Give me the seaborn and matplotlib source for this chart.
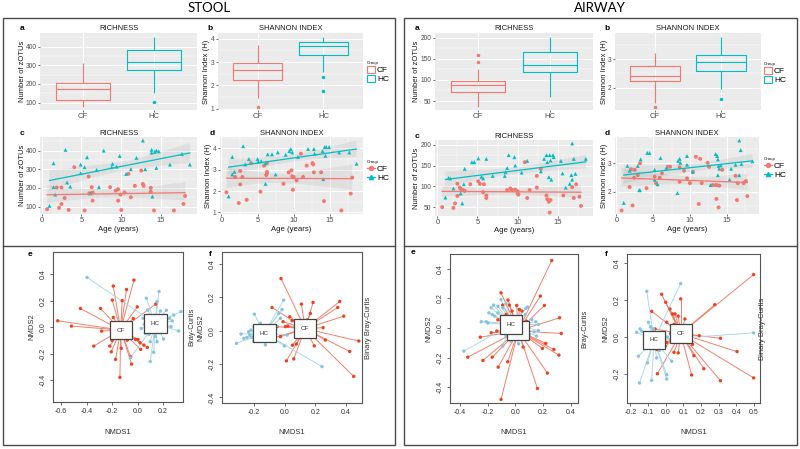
import numpy as np
import pandas as pd
import matplotlib
matplotlib.use("Agg")
import matplotlib.pyplot as plt
import seaborn as sns
from matplotlib.patches import Rectangle, Patch
from matplotlib.lines import Line2D
from matplotlib.collections import LineCollection, PolyCollection
from matplotlib.ticker import AutoMinorLocator

# ---------------- data ----------------
# STOOL  c: richness vs age
stool_rich_cf_age = [0.7, 1.9, 2.5, 2.2, 2.5, 2.9, 3.4, 4.1, 5.4, 5.9, 6.0, 6.3, 6.4, 6.4, 8.6, 9.3, 9.6,
                     9.6, 9.9, 10.0, 10.4, 10.9, 11.2, 11.7, 12.5, 12.7, 12.8, 13.7, 13.7, 14.1, 16.6, 17.8, 18.0]
stool_rich_cf = [86, 202, 202, 93, 114, 146, 82, 311, 79, 261, 171, 204, 132, 175, 204, 186, 193,
                 132, 164, 82, 175, 275, 150, 211, 293, 221, 211, 200, 179, 79, 79, 114, 157]
stool_rich_hc_age = [1.0, 1.5, 1.5, 1.7, 3.0, 3.2, 3.6, 4.9, 4.9, 5.4, 5.7, 6.1, 6.9, 7.2, 7.8, 8.8, 8.9,
                     9.4, 9.8, 10.6, 11.2, 11.9, 12.7, 13.0, 13.8, 13.8, 13.9, 14.2, 14.4, 14.4, 14.7,
                     16.1, 17.6, 18.6]
stool_rich_hc = [104, 332, 204, 164, 404, 229, 207, 325, 279, 311, 364, 171, 296, 204, 400, 311, 329,
                 314, 371, 275, 300, 361, 454, 300, 404, 389, 154, 393, 400, 307, 396, 325, 382, 325]

# STOOL  d: Shannon vs age
stool_shan_cf_age = [0.7, 1.9, 2.4, 2.6, 2.6, 2.9, 3.5, 4.1, 5.4, 5.9, 6.2, 6.3, 6.3, 6.3, 8.6, 9.3, 9.7,
                     9.8, 9.9, 10.0, 10.4, 11.0, 11.3, 11.8, 12.6, 12.8, 12.7, 13.8, 14.2, 16.6, 17.9, 18.1]
stool_shan_cf = [1.94, 2.66, 1.44, 2.94, 2.31, 2.66, 1.59, 3.31, 1.97, 3.19, 2.75, 3.31, 2.90, 2.84,
                 2.34, 2.88, 2.97, 2.69, 2.06, 2.66, 2.50, 3.75, 2.66, 3.19, 3.31, 2.88, 3.25, 2.88,
                 1.53, 1.09, 1.88, 2.63]
stool_shan_hc_age = [1.0, 1.5, 1.5, 1.8, 3.0, 3.3, 3.8, 5.0, 5.1, 5.5, 6.1, 6.1, 6.4, 7.0, 7.5, 7.8, 8.9,
                     9.4, 9.6, 9.8, 10.6, 12.0, 12.8, 12.9, 14.0, 14.1, 14.3, 14.5, 14.4, 14.9, 16.3,
                     17.7, 18.7]
stool_shan_hc = [1.75, 3.60, 2.78, 2.90, 4.10, 3.25, 3.50, 3.50, 3.38, 3.40, 2.34, 3.30, 3.72, 3.72,
                 2.78, 3.81, 3.70, 3.87, 3.97, 3.81, 3.60, 3.97, 3.97, 3.75, 3.87, 2.56, 4.06, 4.06,
                 3.65, 4.06, 3.81, 3.81, 3.28]

# AIRWAY c: richness vs age
air_rich_cf_age = [0.6, 2.0, 2.2, 2.5, 2.5, 2.8, 2.9, 3.2, 3.4, 4.1, 5.1, 5.3, 5.7, 5.8, 6.1, 6.1, 8.7,
                   9.1, 9.3, 9.7, 10.0, 10.0, 10.1, 10.9, 11.2, 11.5, 12.4, 12.4, 12.9, 13.6, 13.7,
                   13.9, 14.1, 14.0, 15.7, 16.8, 17.0, 17.3, 17.7, 17.9]
air_rich_cf = [50, 48, 59, 106, 77, 97, 94, 91, 89, 105, 112, 106, 86, 105, 78, 72, 91,
               95, 91, 92, 88, 83, 80, 158, 72, 91, 125, 97, 142, 78, 69,
               63, 67, 37, 78, 98, 72, 105, 75, 53]
air_rich_hc_age = [1.0, 1.4, 1.6, 2.0, 2.9, 3.1, 3.3, 3.4, 4.3, 4.6, 5.1, 5.5, 5.7, 6.1, 6.9, 8.4, 8.5,
                   8.7, 8.9, 9.6, 9.7, 10.5, 11.2, 12.9, 13.3, 13.6, 13.7, 13.9, 14.0, 14.1, 14.2,
                   14.4, 14.5, 15.4, 15.6, 16.0, 16.5, 16.7, 16.8, 16.8, 17.0, 17.2, 18.5]
air_rich_hc = [73, 120, 119, 95, 83, 59, 105, 142, 158, 158, 167, 123, 119, 166, 125, 125, 134,
               144, 175, 170, 150, 133, 161, 136, 166, 175, 158, 122, 175, 162, 116,
               175, 170, 161, 131, 97, 106, 127, 203, 116, 166, 130, 166]

# AIRWAY d: Shannon vs age
air_shan_cf_age = [0.7, 2.0, 1.8, 2.2, 2.4, 2.5, 2.9, 3.2, 4.1, 5.2, 5.4, 5.9, 6.2, 7.0, 7.3, 8.6, 8.6,
                   9.2, 9.6, 10.0, 10.4, 10.8, 11.2, 11.4, 11.6, 12.4, 12.6, 13.1, 13.5, 13.7, 13.6,
                   14.0, 13.9, 14.4, 16.2, 16.4, 16.5, 17.3, 17.6, 17.8]
air_shan_cf = [1.33, 2.79, 2.16, 1.51, 2.49, 2.77, 2.58, 3.00, 2.12, 2.53, 2.30, 2.49, 2.65, 2.88,
               2.88, 2.35, 2.86, 2.74, 2.47, 2.30, 2.70, 3.23, 1.56, 3.16, 2.30, 3.02, 2.88, 2.23,
               2.23, 2.23, 1.74, 2.21, 1.44, 2.77, 2.56, 1.70, 2.30, 2.30, 2.37, 1.84]
air_shan_hc_age = [1.0, 1.5, 1.8, 2.9, 3.1, 3.2, 3.3, 4.2, 4.5, 5.2, 5.2, 5.6, 6.0, 6.8, 8.3, 8.4, 8.6,
                   8.7, 9.6, 9.6, 10.4, 12.8, 13.5, 13.7, 13.8, 13.9, 13.8, 14.0, 14.2, 15.4, 15.6,
                   16.2, 16.7, 16.7, 16.9, 17.0, 18.5]
air_shan_hc = [1.60, 2.91, 2.74, 2.91, 2.05, 2.05, 3.14, 3.37, 3.37, 2.77, 2.42, 2.26, 3.19, 2.84,
               1.95, 3.09, 3.16, 3.02, 3.26, 2.95, 2.70, 2.23, 3.33, 3.26, 3.14, 2.91, 2.58, 2.81,
               2.93, 2.42, 2.81, 2.95, 3.81, 2.58, 3.47, 2.98, 3.07]

# NMDS ordinations (e: Bray-Curtis, f: binary Bray-Curtis); centroids listed as [CF, HC]
stool_e_cf_x = [-0.626, -0.519, -0.448, -0.343, -0.290, -0.282, -0.217, -0.206, -0.198, -0.190, -0.190,
                -0.172, -0.138, -0.120, -0.128, -0.086, -0.080, -0.054, -0.046, -0.028, -0.033, -0.002,
                -0.015, 0.004, 0.020, 0.025, 0.050, 0.077, 0.143, -0.200]
stool_e_cf_y = [0.048, 0.008, 0.141, -0.143, 0.141, -0.030, -0.143, -0.186, 0.204, 0.310, 0.073,
                -0.243, -0.379, 0.200, -0.160, 0.284, -0.098, -0.224, -0.279, 0.355, 0.065, 0.153,
                -0.093, -0.093, -0.118, -0.168, -0.136, -0.153, 0.174, -0.100]
stool_e_hc_x = [-0.396, -0.056, 0.043, 0.069, 0.080, 0.100, 0.090, 0.127, 0.140, 0.153, 0.169, 0.180,
                0.205, 0.192, 0.226, 0.252, 0.263, 0.273, 0.284, 0.323, 0.341, 0.054, 0.061, 0.100,
                0.153, 0.030]
stool_e_hc_y = [0.375, -0.231, 0.067, 0.218, 0.130, -0.260, -0.054, -0.190, -0.070, 0.193, 0.269,
                0.122, -0.090, -0.034, 0.127, 0.067, 0.004, 0.047, 0.092, -0.029, 0.117, 0.021,
                -0.047, -0.110, -0.110, -0.010]
stool_e_cent_x = [-0.132, 0.140]
stool_e_cent_y = [-0.022, 0.026]

stool_f_cf_x = [-0.024, -0.137, -0.083, -0.050, -0.028, -0.011, 0.004, 0.011, 0.020, 0.033, 0.048,
                0.050, 0.059, 0.076, 0.109, 0.117, 0.146, 0.167, 0.185, 0.193, 0.193, 0.250, 0.265,
                0.346, 0.359, 0.385, 0.424, 0.450, 0.483]
stool_f_cf_y = [0.312, -0.060, 0.139, 0.024, -0.036, 0.054, 0.024, -0.181, 0.028, 0.083, 0.060,
                -0.087, -0.169, -0.080, 0.159, 0.060, 0.064, 0.103, 0.169, 0.056, -0.091, 0.018,
                -0.056, 0.139, 0.175, 0.087, -0.125, -0.274, -0.062]
stool_f_hc_x = [-0.315, -0.198, -0.200, -0.285, -0.267, -0.246, -0.235, -0.228, -0.220, -0.213,
                -0.202, -0.159, -0.126, -0.039, -0.017, -0.007, -0.028, -0.054, -0.002, 0.015,
                0.243, -0.083]
stool_f_hc_y = [-0.076, 0.099, 0.024, -0.020, -0.046, -0.040, -0.006, -0.026, 0.004, -0.040,
                -0.060, 0.044, -0.085, 0.103, 0.127, 0.183, 0.074, 0.028, -0.091, -0.026,
                -0.215, 0.004]
stool_f_cent_x = [0.133, -0.133]
stool_f_cent_y = [0.012, -0.014]

air_e_cf_x = [0.263, -0.103, -0.053, 0.181, 0.210, 0.320, 0.332, -0.253, -0.174, -0.344, -0.234,
              -0.167, -0.124, -0.055, -0.103, 0.057, 0.160, 0.232, 0.220, 0.196, 0.279, 0.315,
              -0.091, -0.043, 0.010, -0.024, 0.029, 0.048, 0.081, -0.126, -0.134, 0.053, -0.067]
air_e_cf_y = [0.456, 0.238, 0.189, 0.216, 0.153, 0.070, -0.036, -0.061, -0.031, -0.196, -0.218,
              -0.196, -0.263, -0.227, -0.481, -0.128, -0.407, -0.303, -0.103, -0.137, -0.144,
              -0.182, 0.155, 0.155, 0.153, 0.115, 0.126, 0.115, 0.047, 0.056, -0.020, -0.043, 0.092]
air_e_hc_x = [-0.372, -0.246, -0.210, -0.191, -0.167, -0.174, -0.158, -0.126, -0.103, -0.091, -0.067,
              -0.126, -0.150, -0.198, 0.076, 0.088, 0.072, 0.148, 0.167, 0.167, 0.136, 0.153, 0.100,
              -0.091, -0.031, 0.024, -0.043, 0.119, -0.067]
air_e_hc_y = [-0.155, 0.043, 0.043, 0.103, 0.092, 0.137, 0.155, 0.148, 0.193, 0.137, 0.164, 0.103,
              0.081, 0.034, 0.133, 0.142, 0.092, 0.043, 0.025, -0.016, -0.025, -0.054, -0.043,
              -0.121, -0.088, -0.106, -0.020, 0.058, -0.054]
air_e_cent_x = [0.021, -0.031]
air_e_cent_y = [-0.018, 0.025]

air_f_cf_x = [0.498, 0.278, 0.498, 0.404, 0.310, 0.310, 0.190, 0.216, 0.160, 0.147, 0.152, -0.047,
              -0.079, -0.023, 0.000, 0.006, 0.024, 0.039, 0.053, 0.071, 0.085, 0.109, 0.047, 0.071,
              0.047, 0.006, -0.002, 0.028, -0.050, -0.060]
air_f_cf_y = [0.336, 0.174, -0.221, -0.079, -0.236, -0.007, 0.007, -0.171, -0.101, -0.205, -0.040,
              -0.198, 0.138, 0.230, 0.187, 0.079, 0.151, 0.124, 0.124, 0.112, 0.205, 0.097, 0.067,
              -0.086, -0.083, -0.029, -0.050, 0.018, -0.068, 0.043]
air_f_hc_x = [-0.107, 0.085, 0.498, -0.148, -0.154, -0.103, -0.079, -0.051, 0.006, 0.006, 0.034,
              -0.164, -0.145, -0.135, -0.098, -0.085, -0.070, -0.117, -0.013, 0.009, 0.028, -0.070,
              -0.036]
air_f_hc_y = [0.246, 0.288, 0.022, -0.248, -0.104, -0.140, -0.234, -0.113, -0.203, -0.227, -0.131,
              0.025, 0.043, 0.031, 0.079, 0.054, 0.043, 0.022, 0.004, 0.000, -0.011, -0.050, -0.072]
air_f_cent_x = [0.085, -0.066]
air_f_cent_y = [0.018, -0.016]

GROUPS = ["CF", "HC"]

# ---------------- styling ----------------
W, H = 800, 449
GG_PAL = {"CF": "#F8766D", "HC": "#00BFC4"}
NM_PT = {"CF": "#F0401F", "HC": "#86C5DC"}
NM_LN = {"CF": "#F2806C", "HC": "#AED8E6"}
TXT = "#1A1A1A"

plt.rcParams["font.family"] = ["Liberation Sans", "DejaVu Sans"]

fig = plt.figure(figsize=(W / 100, H / 100), dpi=100)


def px_axes(x0, y0, x1, y1):
    return fig.add_axes([x0 / W, 1 - y1 / H, (x1 - x0) / W, (y1 - y0) / H])


def px_text(x, y, s, **kw):
    kw.setdefault("ha", "center")
    kw.setdefault("va", "center")
    fig.text(x / W, 1 - y / H, s, **kw)


def gg_style(ax, minor_x=True):
    ax.set_facecolor("#EBEBEB")
    for sp in ax.spines.values():
        sp.set_visible(False)
    ax.yaxis.set_minor_locator(AutoMinorLocator(2))
    if minor_x:
        ax.xaxis.set_minor_locator(AutoMinorLocator(2))
    ax.grid(True, which="major", color="white", linewidth=0.7)
    ax.grid(True, which="minor", color="white", linewidth=0.35)
    ax.set_axisbelow(True)
    ax.tick_params(which="major", length=1.5, width=0.5, color="#333333",
                   labelsize=4.8, labelcolor="#4D4D4D", pad=1)
    ax.tick_params(axis="x", labelsize=5.5, pad=0.6)
    ax.tick_params(which="minor", length=0)
    ax.set_xlabel("")
    ax.set_ylabel("")


def box_panel(ax, cf_vals, hc_vals, yticks):
    df = pd.DataFrame({"Group": ["CF"] * len(cf_vals) + ["HC"] * len(hc_vals),
                       "Value": list(cf_vals) + list(hc_vals)})
    sns.boxplot(data=df, x="Group", y="Value", hue="Group", palette=GG_PAL, fill=False,
                width=0.75, linewidth=0.8, showcaps=False,
                flierprops={"marker": "o", "markersize": 1.5}, legend=False, ax=ax)
    for ln in ax.lines:
        if ln.get_marker() == "o":
            ln.set_markerfacecolor(ln.get_markeredgecolor())
    ax.set_xlim(-0.6, 1.6)
    ax.set_yticks(yticks)
    gg_style(ax, minor_x=False)


def scatter_panel(ax, cf_age, cf_val, hc_age, hc_val, yticks):
    df = pd.DataFrame({"Age": list(cf_age) + list(hc_age),
                       "Value": list(cf_val) + list(hc_val),
                       "Group": ["CF"] * len(cf_age) + ["HC"] * len(hc_age)})
    sns.scatterplot(data=df, x="Age", y="Value", hue="Group", style="Group", palette=GG_PAL,
                    markers={"CF": "o", "HC": "^"}, s=8, linewidth=0, legend=False, ax=ax)
    for g in GROUPS:
        sub = df[df["Group"] == g]
        sns.regplot(x=sub["Age"].to_numpy(), y=sub["Value"].to_numpy(), scatter=False, ci=95,
                    seed=1, color=GG_PAL[g], line_kws={"linewidth": 0.9}, ax=ax)
    for coll in ax.collections:
        if isinstance(coll, PolyCollection):
            coll.set_facecolor((0.58, 0.58, 0.58, 0.45))
            coll.set_edgecolor("none")
    ax.set_xticks([0, 5, 10, 15])
    ax.set_yticks(yticks)
    gg_style(ax)


def nmds_panel(ax, cf_x, cf_y, hc_x, hc_y, cent_x, cent_y, xlim, ylim, xticks, yticks):
    pts = {"CF": (cf_x, cf_y), "HC": (hc_x, hc_y)}
    for i, g in enumerate(GROUPS):
        xs, ys = pts[g]
        segs = [[(cent_x[i], cent_y[i]), (x, y)] for x, y in zip(xs, ys)]
        ax.add_collection(LineCollection(segs, colors=NM_LN[g], linewidths=0.7, zorder=1))
    df = pd.DataFrame({"NMDS1": list(cf_x) + list(hc_x), "NMDS2": list(cf_y) + list(hc_y),
                       "Group": ["CF"] * len(cf_x) + ["HC"] * len(hc_x)})
    sns.scatterplot(data=df, x="NMDS1", y="NMDS2", hue="Group", palette=NM_PT, s=6,
                    linewidth=0, legend=False, ax=ax, zorder=2)
    for i, g in enumerate(GROUPS):
        ax.text(cent_x[i], cent_y[i], g, ha="center", va="center", fontsize=4.5, color="#333333",
                zorder=3, bbox=dict(boxstyle="square,pad=1.1", fc="white", ec="#444444", lw=0.9))
    ax.set_xlim(xlim)
    ax.set_ylim(ylim)
    ax.set_xticks(xticks)
    ax.set_yticks(yticks)
    ax.set_xticklabels([f"{t:.1f}" for t in xticks])
    ax.set_yticklabels([f"{t:.1f}" for t in yticks], rotation=90, va="center")
    ax.set_facecolor("white")
    for sp in ax.spines.values():
        sp.set_color("#555555")
        sp.set_linewidth(0.8)
    ax.tick_params(length=2.5, width=0.6, color="#555555", labelsize=5,
                   labelcolor="#333333", pad=2)
    ax.set_xlabel("")
    ax.set_ylabel("")


def gg_legend(x, y, points=False):
    if points:
        handles = [Line2D([0], [0], color=GG_PAL["CF"], marker="o", markersize=2.8, lw=0.9),
                   Line2D([0], [0], color=GG_PAL["HC"], marker="^", markersize=3.0, lw=0.9)]
    else:
        handles = [Patch(facecolor="white", edgecolor=GG_PAL[g], linewidth=0.8) for g in GROUPS]
    fig.legend(handles, GROUPS, title="Group", loc="upper left",
               bbox_to_anchor=(x / W, 1 - y / H), frameon=False, fontsize=6,
               title_fontsize=3.2, handlelength=0.9, handleheight=0.9, handletextpad=0.3,
               labelspacing=0.1, borderpad=0, borderaxespad=0, alignment="left")


# ---------------- frames ----------------
for x0, x1 in ((3, 395), (404, 797)):
    fig.add_artist(Rectangle((x0 / W, 1 - 445 / H), (x1 - x0) / W, (445 - 18) / H,
                             transform=fig.transFigure, fill=False, ec="#4A4A4A", lw=1.0))
    fig.add_artist(Line2D([x0 / W, x1 / W], [1 - 246 / H, 1 - 246 / H],
                          transform=fig.transFigure, color="#4A4A4A", lw=1.0))

px_text(209, 8, "STOOL", fontsize=9.5, family=["Lato", "DejaVu Sans"])
px_text(600, 8, "AIRWAY", fontsize=9.5, family=["Lato", "DejaVu Sans"])

# ---------------- ggplot panels a-d ----------------
layout = [
    dict(rich=(stool_rich_cf_age, stool_rich_cf, stool_rich_hc_age, stool_rich_hc),
         shan=(stool_shan_cf_age, stool_shan_cf, stool_shan_hc_age, stool_shan_hc),
         a=(40, 33, 197, 110), b=(218, 33, 363, 110), c=(40, 137, 197, 214), d=(220, 137, 363, 214),
         rich_ticks=[100, 200, 300, 400], shan_ticks=[1, 2, 3, 4],
         leg_b=(367, 61), leg_d=(367, 160)),
    dict(rich=(air_rich_cf_age, air_rich_cf, air_rich_hc_age, air_rich_hc),
         shan=(air_shan_cf_age, air_shan_cf, air_shan_hc_age, air_shan_hc),
         a=(435, 33, 593, 110), b=(615, 33, 761, 110), c=(435, 140, 593, 216), d=(615, 137, 759, 214),
         rich_ticks=[50, 100, 150, 200], shan_ticks=[2, 3],
         leg_b=(764, 62), leg_d=(764, 157)),
]

for p in layout:
    cf_a, cf_r, hc_a, hc_r = p["rich"]
    cf_sa, cf_s, hc_sa, hc_s = p["shan"]

    box_panel(px_axes(*p["a"]), cf_r, hc_r, p["rich_ticks"])
    box_panel(px_axes(*p["b"]), cf_s, hc_s, p["shan_ticks"])
    scatter_panel(px_axes(*p["c"]), cf_a, cf_r, hc_a, hc_r, p["rich_ticks"])
    scatter_panel(px_axes(*p["d"]), cf_sa, cf_s, hc_sa, hc_s, p["shan_ticks"])

    for key, title, ylab in (("a", "RICHNESS", "Number of zOTUs"),
                             ("b", "SHANNON INDEX", "Shannon Index (H)"),
                             ("c", "RICHNESS", "Number of zOTUs"),
                             ("d", "SHANNON INDEX", "Shannon Index (H)")):
        x0, y0, x1, y1 = p[key]
        wide = key in "ac"
        px_text((x0 + x1) / 2, y0 - 4, title, fontsize=5.5, color=TXT)
        px_text(x0 - 18 if wide else x0 - 8, y0 - 4, key, fontsize=6, weight="bold")
        px_text(x0 - 18 if wide else x0 - 11, (y0 + y1) / 2, ylab, fontsize=5.5,
                rotation=90, color=TXT)
        if key in "cd":
            px_text((x0 + x1) / 2, y1 + 15, "Age (years)", fontsize=5.6, color=TXT)

    gg_legend(*p["leg_b"])
    gg_legend(*p["leg_d"], points=True)

# ---------------- NMDS panels e-f ----------------
nmds = [
    dict(name="e", box=(53, 252, 183, 402),
         data=(stool_e_cf_x, stool_e_cf_y, stool_e_hc_x, stool_e_hc_y, stool_e_cent_x, stool_e_cent_y),
         xlim=(-0.663, 0.357), ylim=(-0.565, 0.567), xt=[-0.6, -0.4, -0.2, 0.0, 0.2],
         yt=[-0.4, -0.2, 0.0, 0.2, 0.4], letter=(30, 255), side_lab="Bray-Curtis", side_x=192),
    dict(name="f", box=(222, 252, 362, 403),
         data=(stool_f_cf_x, stool_f_cf_y, stool_f_hc_x, stool_f_hc_y, stool_f_cent_x, stool_f_cent_y),
         xlim=(-0.409, 0.504), ylim=(-0.433, 0.471), xt=[-0.2, 0.0, 0.2, 0.4],
         yt=[-0.4, -0.2, 0.0, 0.2, 0.4], letter=(210, 255), side_lab="Binary Bray-Curtis",
         side_x=368),
    dict(name="e", box=(450, 254, 578, 403),
         data=(air_e_cf_x, air_e_cf_y, air_e_hc_x, air_e_hc_y, air_e_cent_x, air_e_cent_y),
         xlim=(-0.472, 0.453), ylim=(-0.505, 0.5), xt=[-0.4, -0.2, 0.0, 0.2, 0.4],
         yt=[-0.4, -0.2, 0.0, 0.2, 0.4], letter=(413, 252), side_lab="Bray-Curtis", side_x=585),
    dict(name="f", box=(627, 254, 760, 403),
         data=(air_f_cf_x, air_f_cf_y, air_f_hc_x, air_f_hc_y, air_f_cent_x, air_f_cent_y),
         xlim=(-0.219, 0.534), ylim=(-0.356, 0.447),
         xt=[-0.2, -0.1, 0.0, 0.1, 0.2, 0.3, 0.4, 0.5], yt=[-0.2, 0.0, 0.2, 0.4],
         letter=(606, 255), side_lab="Binary Bray-Curtis", side_x=763),
]

for n in nmds:
    x0, y0, x1, y1 = n["box"]
    nmds_panel(px_axes(x0, y0, x1, y1), *n["data"], n["xlim"], n["ylim"], n["xt"], n["yt"])
    px_text(*n["letter"], n["name"], fontsize=6, weight="bold")
    px_text((x0 + x1) / 2, 432, "NMDS1", fontsize=5.5, color="#333333")
    px_text(x0 - 21, (y0 + y1) / 2, "NMDS2", fontsize=5.5, color="#333333", rotation=90)
    px_text(n["side_x"], (y0 + y1) / 2, n["side_lab"], fontsize=5.5, color="#333333", rotation=90)

fig.savefig("out.png", dpi=100)
